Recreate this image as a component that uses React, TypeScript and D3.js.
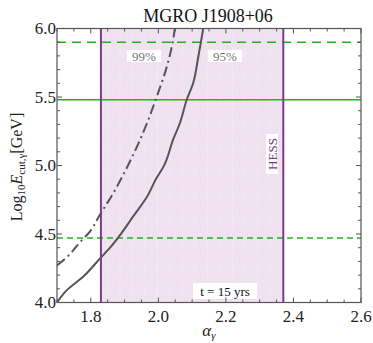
import React from "react";
import * as d3 from "d3";

const title = "MGRO J1908+06";
const xTicks = [1.8, 2.0, 2.2, 2.4, 2.6];
const yTicks = [4.0, 4.5, 5.0, 5.5, 6.0];
const hessRange = [1.83, 2.37];
const greenSolid = 5.48;
const greenDashed = [5.9, 4.47];

const c95Alpha = [1.7, 1.729, 1.778, 1.827, 1.857, 1.886, 1.926, 1.966, 1.995, 2.015, 2.044, 2.064, 2.084, 2.103, 2.118, 2.133];
const c95E = [4.0, 4.09, 4.19, 4.32, 4.4, 4.49, 4.63, 4.77, 4.91, 4.99, 5.19, 5.31, 5.48, 5.6, 5.79, 6.0];
const c99Alpha = [1.7, 1.729, 1.768, 1.798, 1.827, 1.867, 1.906, 1.955, 1.995, 2.025, 2.044, 2.049];
const c99E = [4.27, 4.33, 4.44, 4.52, 4.64, 4.8, 4.98, 5.24, 5.5, 5.72, 5.92, 6.0];

const W = 373, H = 343;
const m = { left: 57, right: 361, top: 28.5, bottom: 302.5 };
const font = "'Liberation Serif', 'Times New Roman', serif";

export default function App() {
  const x = d3.scaleLinear().domain([1.7, 2.6]).range([m.left, m.right]);
  const y = d3.scaleLinear().domain([4.0, 6.0]).range([m.bottom, m.top]);
  const line = d3.line<[number, number]>().x(d => x(d[0])).y(d => y(d[1])).curve(d3.curveMonotoneY);
  const p95 = line(c95Alpha.map((a, i) => [a, c95E[i]]) as [number, number][]);
  const p99 = line(c99Alpha.map((a, i) => [a, c99E[i]]) as [number, number][]);
  const xMinor = d3.range(1.7, 2.6001, 0.05);
  const yMinor = d3.range(4.0, 6.0001, 0.1);
  const frame = "#555";
  const green = "#22b022";
  const purple = "#7d3a86";
  const ts = { fontFamily: font };
  return (
    <svg width={W} height={H} style={{ position: "absolute", left: 0, top: 0, fontFamily: font }}>
      <defs>
        <clipPath id="plot">
          <rect x={m.left} y={m.top} width={m.right - m.left} height={m.bottom - m.top} />
        </clipPath>
        <pattern id="hatch" patternUnits="userSpaceOnUse" width={12.5} height={24} x={m.left} y={m.top}>
          <rect width={12.5} height={24} fill="#efe1ef" />
          <line x1={0} y1={0} x2={0} y2={24} stroke="#f7f0f7" strokeWidth={0.8} />
          <line x1={0} y1={0} x2={12.5} y2={0} stroke="#f7f0f7" strokeWidth={0.8} />
          <line x1={0} y1={24} x2={12.5} y2={0} stroke="#f5edf5" strokeWidth={0.6} />
        </pattern>
      </defs>
      <rect x={0} y={0} width={W} height={H} fill="white" />
      <text x={208} y={22} textAnchor="middle" fontSize={18} fill="#111" style={ts}>{title}</text>
      <g clipPath="url(#plot)">
        <rect x={x(hessRange[0])} y={m.top} width={x(hessRange[1]) - x(hessRange[0])} height={m.bottom - m.top} fill="url(#hatch)" />
        <line x1={m.left} x2={m.right} y1={y(greenSolid)} y2={y(greenSolid)} stroke={green} strokeWidth={1.5} />
        {greenDashed.map((v, i) => (
          <line key={i} x1={m.left} x2={m.right} y1={y(v)} y2={y(v)} stroke={green} strokeWidth={1.5}
            strokeDasharray={i === 0 ? "9,6" : "6,4"} />
        ))}
        <path d={p95 || ""} fill="none" stroke="#555" strokeWidth={2} />
        <path d={p99 || ""} fill="none" stroke="#555" strokeWidth={2} strokeDasharray="10,4,2,4" />
        {hessRange.map((v, i) => (
          <line key={i} x1={x(v)} x2={x(v)} y1={m.top} y2={m.bottom} stroke={purple} strokeWidth={2} />
        ))}
      </g>
      <rect x={127} y={50} width={34} height={12} fill="white" />
      <text x={144} y={60.5} textAnchor="middle" fontSize={13} fill="#777" style={ts}>99%</text>
      <rect x={208} y={50} width={34} height={12} fill="white" />
      <text x={225} y={60.5} textAnchor="middle" fontSize={13} fill="#777" style={ts}>95%</text>
      <rect x={266} y={134} width={12} height={40} fill="white" />
      <text transform={`translate(276.5,154) rotate(-90)`} textAnchor="middle" fontSize={13} fill={purple} style={ts}>HESS</text>
      <rect x={193} y={283} width={64} height={16} fill="white" />
      <text x={225} y={295.5} textAnchor="middle" fontSize={13} fill="#111" style={ts}>t = 15 yrs</text>
      <rect x={m.left} y={m.top} width={m.right - m.left} height={m.bottom - m.top} fill="none" stroke={frame} strokeWidth={1.2} />
      {xMinor.map((v, i) => {
        const major = xTicks.some(t => Math.abs(t - v) < 1e-6);
        const len = major ? 5 : 3;
        return (
          <g key={"xm" + i}>
            <line x1={x(v)} x2={x(v)} y1={m.bottom} y2={m.bottom - len} stroke={frame} />
            <line x1={x(v)} x2={x(v)} y1={m.top} y2={m.top + len} stroke={frame} />
          </g>
        );
      })}
      {yMinor.map((v, i) => {
        const major = yTicks.some(t => Math.abs(t - v) < 1e-6);
        const len = major ? 5 : 3;
        return (
          <g key={"ym" + i}>
            <line x1={m.left} x2={m.left + len} y1={y(v)} y2={y(v)} stroke={frame} />
            <line x1={m.right} x2={m.right - len} y1={y(v)} y2={y(v)} stroke={frame} />
          </g>
        );
      })}
      {xTicks.map((v, i) => (
        <text key={"xt" + i} x={x(v)} y={m.bottom + 19} textAnchor="middle" fontSize={17} fill="#222" style={ts}>{v.toFixed(1)}</text>
      ))}
      {yTicks.map((v, i) => (
        <text key={"yt" + i} x={m.left - 1} y={y(v) + 5.5} textAnchor="end" fontSize={17} fill="#222" style={ts}>{v.toFixed(1)}</text>
      ))}
      <text x={209} y={336} textAnchor="middle" fontSize={17} fontStyle="italic" fill="#222" style={ts}>α<tspan fontSize={11} dy={3}>γ</tspan></text>
      <text transform={`translate(22,167) rotate(-90)`} textAnchor="middle" fontSize={16} fill="#222" style={ts}>
        Log<tspan fontSize={11} dy={3}>10</tspan><tspan dy={-3} fontStyle="italic">E</tspan><tspan fontSize={11} dy={3}>cut,γ</tspan><tspan dy={-3}>[GeV]</tspan>
      </text>
    </svg>
  );
}
